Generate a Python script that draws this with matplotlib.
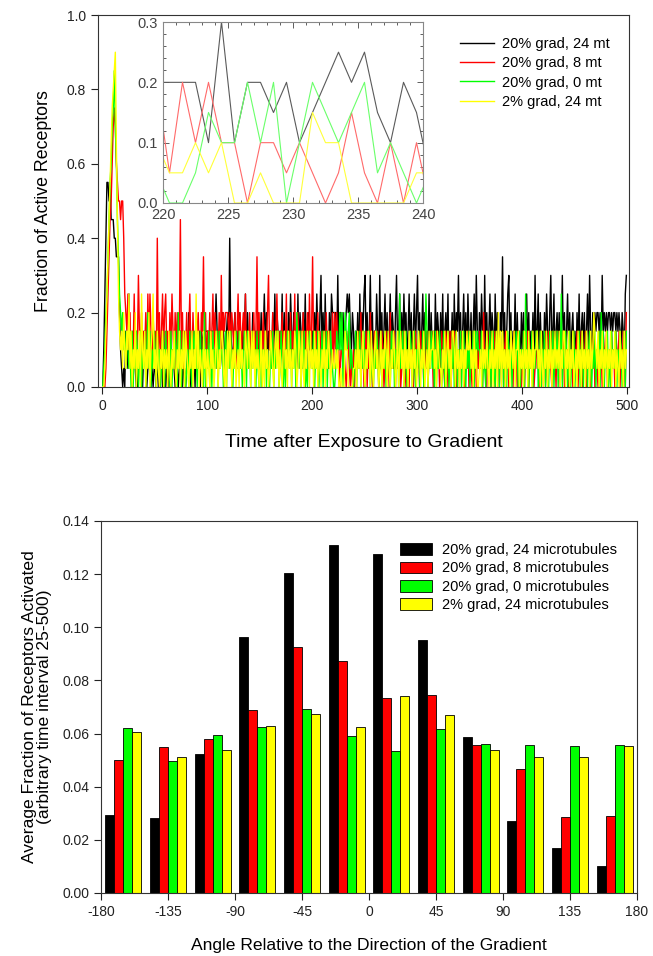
import numpy as np
import matplotlib
matplotlib.use('Agg')
import matplotlib.pyplot as plt
from matplotlib.ticker import MultipleLocator, FormatStrFormatter

plt.rcParams['font.family'] = ['Liberation Sans', 'DejaVu Sans']
plt.rcParams['axes.unicode_minus'] = False

# --- top panel: fraction of active receptors per time step ---
# one character per step, base-36 digit times 0.05
series_labels = ['20% grad, 24 mt', '20% grad, 8 mt', '20% grad, 0 mt', '2% grad, 24 mt']

black_24mt = """
0258bbab99 9887774210 1032152101 2100121102 3101120101
1020112031 0120101210 2101320110 1241031203 2130323333
3333333353 2312432134 2832134231 4213235142 3124313241
2413524132 3142524313 2514231425 3142315243 1425134231
3142531462 4152314254 4442624434 2345453243 1324152435
6241362413 2531624135 2413524314 6235142534 1352413524
6241352413 2514231524 3142513425 1324152436 2413524153
2413526314 2531624135 2431524314 3724135624 1325142314
2413524132 4162351423 1425314623 5134241362 4135241342
3142513424 1352631424 3443426343 4344343443 4343243156
"""
red_8mt = """
00013579ac efecbaa9aa 8543524132 5132632413 2415253142
3182413524 5231425314 2413924132 4135214231 3421437241
3241352413 2416243444 3424324135 2413425132 4132413724
1324132462 3142135213 2413251324 1325134213 2413241523
7213241321 3214213214 1424220221 2101310202 0213124120
1302142013 2130213201 3120412130 2132012310 2103120132
1203120213 0213201231 2013210320 1302132012 0312102130
2103120213 1204120312 0213021302 1302312013 2031203120
1302130213 2013120312 0231032103 1203120213 0312031203
2130213021 3021302130 2103120321 3012031203 2130213204
"""
green_0mt = """
0124579bce fhec975434 2313212030 2132013021 3024130213
2031201320 3112030213 2041302310 1203102312 0213120402
1302031213 0312201303 2130021321 3120132031 2031220310
3021130210 2130213301 3102013213 0213042130 2130102321
1302130213 0213021321 0013224240 2432341210 1302130213
0213301202 1320130213 0221031302 1305123013 0213201302
1302130253 0213120302 1320130013 0211302302 1302310213
0213031322 1302103213 0231021302 1302103213 0221320302
1305120213 0213301302 1302203213 0213021502 1320130213
0211302302 1302310213 0213041302 1302031213 0213201303
"""
yellow_24mt = """
0013579bdf ghid953231 4213251302 1402130521 3021402351
2031021302 1203102131 0213021303 2102130215 1302103120
2103120132 0213310203 1320213012 0312103213 2031302120
1302031201 3210231302 1023120312 0213201320 3102132031
2031203102 1302132012 1121200100 0322000001 1203120231
0213203102 3120130213 2031021320 1302312031 2031203120
1320213012 0312231203 2110213023 1203320312 0213021322
3120312001 2031213102 1302130413 0312031203 2130223021
2031203120 3122312031 0213021302 1312130213 3021302130
1203120312 0312031243 2130213021 3021302130 2103120312
"""

# --- bottom panel: mean fraction activated vs angle (t = 25-500) ---
angles = [-165, -135, -105, -75, -45, -15, 15, 45, 75, 105, 135, 165]
bar_labels = ['20% grad, 24 microtubules', '20% grad, 8 microtubules',
              '20% grad, 0 microtubules', '2% grad, 24 microtubules']
black_bar = [0.0293, 0.0283, 0.0525, 0.0964, 0.1206, 0.1311, 0.1274, 0.0952, 0.0588, 0.0272, 0.0170, 0.0102]
red_bar = [0.0500, 0.0550, 0.0581, 0.0690, 0.0926, 0.0875, 0.0732, 0.0747, 0.0556, 0.0465, 0.0287, 0.0291]
green_bar = [0.0620, 0.0498, 0.0593, 0.0623, 0.0694, 0.0590, 0.0535, 0.0618, 0.0559, 0.0558, 0.0553, 0.0557]
yellow_bar = [0.0607, 0.0512, 0.0538, 0.0627, 0.0672, 0.0623, 0.0742, 0.0670, 0.0540, 0.0512, 0.0510, 0.0553]

line_colors = ['#000000', '#ff0000', '#00ff00', '#ffff00']
inset_colors = ['#5a5a5a', '#ff6a6a', '#6aff6a', '#ffff3a']


def decode(s):
    chars = "".join(s.split())
    return np.array([int(c, 36) for c in chars]) * 0.05


series = [decode(s) for s in (black_24mt, red_8mt, green_0mt, yellow_24mt)]
t = np.arange(len(series[0])) + 0.5

fig = plt.figure(figsize=(6.53, 9.56), dpi=100)

# main time course
ax1 = fig.add_axes([0.1501, 0.5952, 0.8131, 0.3891])
for y, c, lab in zip(series, line_colors, series_labels):
    ax1.plot(t, y, color=c, lw=1.0, label=lab)
ax1.set_xlim(-4, 502)
ax1.set_ylim(0, 1.0)
ax1.xaxis.set_major_locator(MultipleLocator(100))
ax1.yaxis.set_major_locator(MultipleLocator(0.2))
ax1.yaxis.set_major_formatter(FormatStrFormatter('%.1f'))
ax1.tick_params(direction='out', length=5, width=0.8, labelsize=10, colors='#222222')
ax1.set_xlabel('Time after Exposure to Gradient', fontsize=14, labelpad=15)
ax1.set_ylabel('Fraction of Active Receptors', fontsize=12.8, labelpad=11)
for sp in ax1.spines.values():
    sp.set_color('#333333')
ax1.legend(loc='upper left', bbox_to_anchor=(460 / 653, 1 - 37 / 956),
           bbox_transform=fig.transFigure, frameon=False, fontsize=10.5,
           handlelength=2.3, handletextpad=0.6, labelspacing=0.36, borderpad=0,
           borderaxespad=0)

# inset zoom 220-240
axi = fig.add_axes([163 / 653, 1 - 203 / 956, 260 / 653, 181 / 956])
for y, c in zip(series, inset_colors):
    axi.plot(t, y, color=c, lw=0.8)
axi.set_xlim(220, 240)
axi.set_ylim(0, 0.3)
axi.xaxis.set_major_locator(MultipleLocator(5))
axi.xaxis.set_minor_locator(MultipleLocator(1))
axi.yaxis.set_major_locator(MultipleLocator(0.1))
axi.yaxis.set_minor_locator(MultipleLocator(0.02))
axi.yaxis.set_major_formatter(FormatStrFormatter('%.1f'))
axi.tick_params(which='both', direction='in', top=True, right=True,
                labelsize=10.5, colors='#444444', width=0.6)
axi.tick_params(which='major', length=4)
axi.tick_params(which='minor', length=2)
for sp in axi.spines.values():
    sp.set_color('#888888')

# bar chart
ax2 = fig.add_axes([101 / 653, 63 / 956, 536 / 653, 372 / 956])
bar_w = 6
offsets = [-9, -3, 3, 9]
for vals, c, lab, off in zip((black_bar, red_bar, green_bar, yellow_bar),
                             line_colors, bar_labels, offsets):
    ax2.bar(np.array(angles) + off, vals, width=bar_w, color=c,
            edgecolor='black', linewidth=0.6, label=lab)
ax2.set_xlim(-180, 180)
ax2.set_ylim(0, 0.14)
ax2.xaxis.set_major_locator(MultipleLocator(45))
ax2.yaxis.set_major_locator(MultipleLocator(0.02))
ax2.yaxis.set_major_formatter(FormatStrFormatter('%.2f'))
ax2.tick_params(direction='out', length=5, width=0.8, labelsize=10, colors='#222222')
ax2.set_xlabel('Angle Relative to the Direction of the Gradient', fontsize=12.6, labelpad=14)
ax2.set_ylabel('Average Fraction of Receptors Activated\n(arbitrary time interval 25-500)',
               fontsize=12.6, labelpad=7, linespacing=1.05)
for sp in ax2.spines.values():
    sp.set_color('#333333')
ax2.legend(loc='upper left', bbox_to_anchor=(400 / 653, 1 - 543 / 956),
           bbox_transform=fig.transFigure, frameon=False, fontsize=10.5,
           handlelength=2.2, handleheight=0.85, handletextpad=0.65,
           labelspacing=0.3, borderpad=0, borderaxespad=0)

fig.savefig('out.png', dpi=100)
